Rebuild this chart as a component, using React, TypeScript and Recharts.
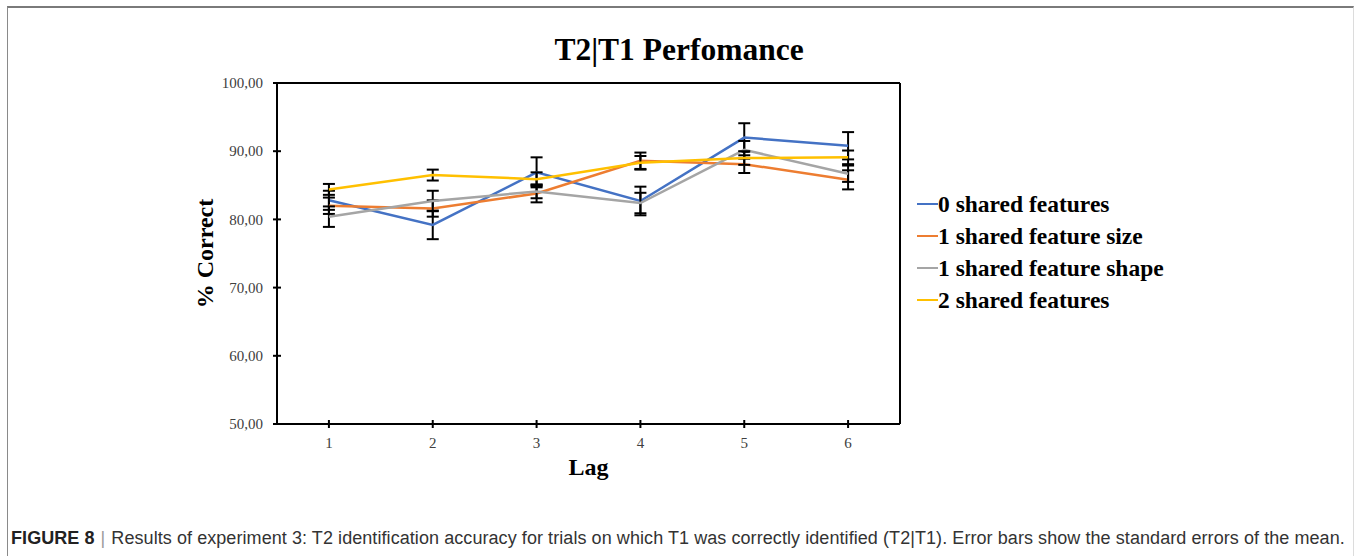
import React from 'react';
import { LineChart, Line, XAxis, YAxis, ErrorBar, ReferenceLine, Legend } from 'recharts';

// values
const lags = [1, 2, 3, 4, 5, 6];
const zeroShared = [82.8, 79.2, 86.9, 82.7, 92.0, 90.8];
const oneSize = [82.0, 81.6, 83.8, 88.6, 88.1, 85.8];
const oneShape = [80.4, 82.7, 84.1, 82.4, 90.2, 86.7];
const twoShared = [84.4, 86.5, 85.9, 88.3, 89.0, 89.1];

// standard errors
const zeroErr = [1.4, 2.1, 2.2, 2.1, 2.1, 2.0];
const sizeErr = [1.2, 1.2, 1.3, 1.2, 1.3, 1.4];
const shapeErr = [1.5, 1.5, 1.0, 1.5, 1.3, 1.2];
const twoErr = [0.8, 0.8, 1.0, 1.0, 1.0, 1.0];

const yTicks = [50, 60, 70, 80, 90, 100];

const SERIES = [
  { key: 'zero', err: 'zeroErr', name: '0 shared features', color: '#4472C4' },
  { key: 'size', err: 'sizeErr', name: '1 shared feature size', color: '#ED7D31' },
  { key: 'shape', err: 'shapeErr', name: '1 shared feature shape', color: '#A5A5A5' },
  { key: 'two', err: 'twoErr', name: '2 shared features', color: '#FFC000' },
];

const data = lags.map((lag, i) => ({
  lag,
  zero: zeroShared[i],
  size: oneSize[i],
  shape: oneShape[i],
  two: twoShared[i],
  zeroErr: zeroErr[i],
  sizeErr: sizeErr[i],
  shapeErr: shapeErr[i],
  twoErr: twoErr[i],
}));

const SERIF = '"Liberation Serif", "Times New Roman", serif';

const XTick = (props: any) => {
  const { x, y, payload } = props;
  const axisY = y - 12;
  return (
    <g>
      <line x1={x} x2={x} y1={axisY - 4} y2={axisY + 4} stroke="#000" strokeWidth={2} />
      <text x={x} y={axisY + 24} textAnchor="middle" fontFamily={SERIF} fontSize={15} fill="#404040">
        {payload.value}
      </text>
    </g>
  );
};

const YTick = (props: any) => {
  const { x, y, payload } = props;
  const axisX = x + 14;
  return (
    <g>
      <line x1={axisX - 4} x2={axisX + 4} y1={y} y2={y} stroke="#000" strokeWidth={2} />
      <text x={x} y={y} dy="0.35em" textAnchor="end" fontFamily={SERIF} fontSize={15} fill="#404040">
        {payload.value.toFixed(2).replace('.', ',')}
      </text>
    </g>
  );
};

const LegendBox = () => (
  <div style={{ fontFamily: SERIF, fontWeight: 700, fontSize: 23.5, color: '#000' }}>
    {SERIES.map((s) => (
      <div key={s.key} style={{ display: 'flex', alignItems: 'center', height: 32 }}>
        <span style={{ display: 'inline-block', width: 21, height: 2, background: s.color }} />
        <span>{s.name}</span>
      </div>
    ))}
  </div>
);

export default function App() {
  return (
    <div style={{ position: 'absolute', left: 0, top: 0, width: 1355, height: 556, background: '#fff', overflow: 'hidden' }}>
      {/* figure frame */}
      <div
        style={{
          position: 'absolute',
          left: 7,
          top: 6,
          width: 1345,
          height: 600,
          borderLeft: '1px solid #8a8a8a',
          borderTop: '2px solid #7a7a7a',
          borderRight: '1px solid #dcdcdc',
        }}
      />
      <div
        style={{
          position: 'absolute',
          left: 0,
          width: 1358,
          top: 32,
          textAlign: 'center',
          fontFamily: SERIF,
          fontWeight: 700,
          fontSize: 31.5,
          lineHeight: '36px',
          color: '#000',
        }}
      >
        T2|T1 Perfomance
      </div>

      <div style={{ position: 'absolute', left: 0, top: 0 }}>
        <LineChart width={1355} height={556} data={data} margin={{ top: 83, right: 455, bottom: 72, left: 197 }}>
          <XAxis
            dataKey="lag"
            type="number"
            domain={[0.5, 6.5]}
            ticks={lags}
            height={60}
            tickSize={4}
            tickMargin={8}
            tickLine={false}
            axisLine={{ stroke: '#000', strokeWidth: 2 }}
            tick={<XTick />}
            label={(p: any) => {
              const vb = p.viewBox;
              return (
                <text
                  x={vb.x + vb.width / 2}
                  y={vb.y + 51}
                  textAnchor="middle"
                  fontFamily={SERIF}
                  fontWeight={700}
                  fontSize={24}
                  fill="#000"
                >
                  Lag
                </text>
              );
            }}
          />
          <YAxis
            type="number"
            domain={[50, 100]}
            ticks={yTicks}
            width={80}
            tickSize={4}
            tickMargin={10}
            tickLine={false}
            axisLine={{ stroke: '#000', strokeWidth: 2 }}
            tick={<YTick />}
            label={(p: any) => {
              const vb = p.viewBox;
              const cx = vb.x + 8;
              const cy = vb.y + vb.height / 2;
              return (
                <text
                  x={cx}
                  y={cy}
                  transform={`rotate(-90, ${cx}, ${cy})`}
                  textAnchor="middle"
                  dominantBaseline="central"
                  fontFamily={SERIF}
                  fontWeight={700}
                  fontSize={24}
                  fill="#000"
                >
                  % Correct
                </text>
              );
            }}
          />
          <ReferenceLine y={100} stroke="#000" strokeWidth={2} />
          <ReferenceLine x={6.5} stroke="#000" strokeWidth={2} />
          {SERIES.map((s) => (
            <Line
              key={s.key}
              dataKey={s.key}
              name={s.name}
              stroke={s.color}
              strokeWidth={2.5}
              dot={false}
              isAnimationActive={false}
            >
              <ErrorBar dataKey={s.err} direction="y" width={6} strokeWidth={2} stroke="#000" />
            </Line>
          ))}
          <Legend
            layout="vertical"
            align="center"
            verticalAlign="middle"
            content={<LegendBox />}
            wrapperStyle={{ position: 'absolute', left: 917, top: 188, width: 280 }}
          />
        </LineChart>
      </div>

      {/* caption */}
      <div
        style={{
          position: 'absolute',
          left: 11,
          top: 527,
          whiteSpace: 'nowrap',
          fontFamily: '"Liberation Sans", Arial, sans-serif',
          fontSize: 18,
          letterSpacing: 0.07,
          lineHeight: '22px',
          color: '#333',
        }}
      >
        <span style={{ fontWeight: 700, color: '#222' }}>FIGURE 8</span>
        <span style={{ color: '#999', margin: '0 6px' }}>|</span>
        Results of experiment 3: T2 identification accuracy for trials on which T1 was correctly identified (T2|T1). Error bars show the standard errors of the mean.
      </div>
    </div>
  );
}
